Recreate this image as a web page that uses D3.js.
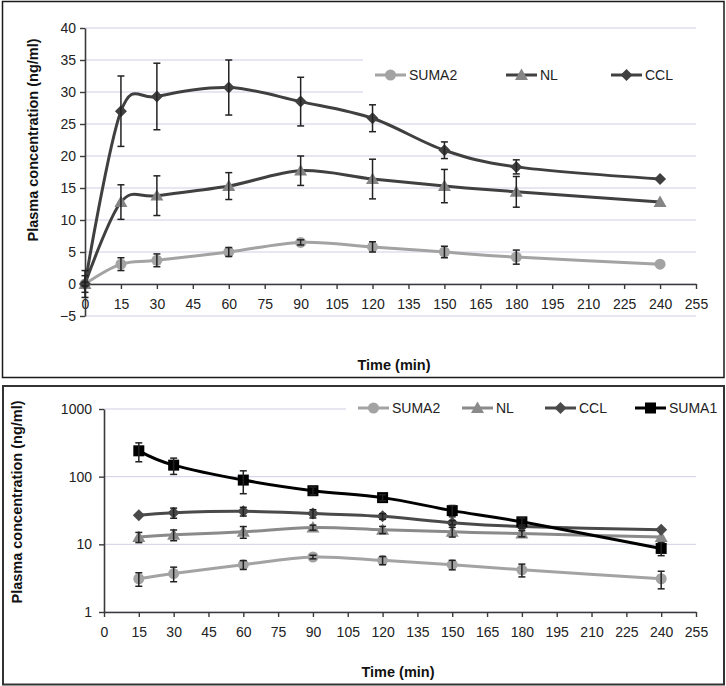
<!DOCTYPE html>
<html>
<head>
<meta charset="utf-8">
<script src="https://cdn.jsdelivr.net/npm/d3@7"></script>
<style>
  html, body { margin: 0; padding: 0; background: #fff; }
  svg { display: block; font-family: "Liberation Sans", Arial, sans-serif; }
</style>
</head>
<body>
<svg id="chart" width="726" height="686"></svg>
<script>
// ---------- data ----------
const times = [0, 15, 30, 60, 90, 120, 150, 180, 240];
const suma2 = [0, 3.1, 3.7, 5.0, 6.5, 5.8, 5.0, 4.2, 3.1];
const nl    = [0, 12.8, 13.8, 15.3, 17.7, 16.4, 15.3, 14.4, 12.8];
const ccl   = [0, 27.0, 29.3, 30.7, 28.5, 25.9, 20.9, 18.3, 16.4];
const suma2Sd = [0.3, 1.0, 1.0, 0.7, 0.4, 0.8, 0.9, 1.1, 0];
const nlSd    = [1.3, 2.7, 3.1, 2.1, 2.3, 3.1, 2.6, 2.4, 0];
const cclSd   = [2.1, 5.5, 5.2, 4.3, 3.8, 2.1, 1.3, 1.1, 0];

const timesLog = [15, 30, 60, 90, 120, 150, 180, 240];
const suma1    = [241, 148, 89, 62, 49, 31.5, 21.5, 8.7];
const suma1Sd  = [75, 40, 33, 8, 5, 6, 3, 1.9];
const suma2SdLog = [0.7, 0.9, 0.75, 0.4, 0.8, 0.8, 0.9, 0.9];
const nlSdLog    = [2.2, 2.5, 3.0, 1.5, 2.0, 2.5, 1.5, 0];
const cclSdLog   = [0, 5, 4.5, 4, 2.5, 1.5, 1, 0];

const xTicks = d3.range(0, 256, 15);
const yTicksLin = d3.range(-5, 41, 5);
const yTicksLog = [1, 10, 100, 1000];
const namesTop = ["SUMA2", "NL", "CCL"];
const namesBottom = ["SUMA2", "NL", "CCL", "SUMA1"];
const yTitle = "Plasma concentration (ng/ml)";
const xTitle = "Time (min)";

// ---------- helpers ----------
const svg = d3.select("#chart");
const gridColor = "#cfcfe6";
const axisColor = "#3a3a3a";

function marker(g, shape, x, y, fill) {
  if (shape === "circle") {
    g.append("circle").attr("cx", x).attr("cy", y).attr("r", 5.5).attr("fill", fill);
  } else if (shape === "triangle") {
    const s = 6.5;
    g.append("path").attr("d", `M${x},${y - s}L${x + s},${y + s * 0.75}L${x - s},${y + s * 0.75}Z`).attr("fill", fill);
  } else if (shape === "diamond") {
    const s = 6;
    g.append("path").attr("d", `M${x},${y - s}L${x + s},${y}L${x},${y + s}L${x - s},${y}Z`).attr("fill", fill);
  } else if (shape === "square") {
    const s = 5.5;
    g.append("rect").attr("x", x - s).attr("y", y - s).attr("width", 2 * s).attr("height", 2 * s).attr("fill", fill);
  }
}

function drawSeries(g, xs, ys, x, y, lineColor, markColor, shape, lw) {
  const pts = xs.map((t, i) => [x(t), y(ys[i])]);
  g.append("path")
    .attr("d", d3.line().curve(d3.curveCardinal.tension(0))(pts))
    .attr("fill", "none").attr("stroke", lineColor).attr("stroke-width", lw)
    .attr("stroke-linejoin", "round").attr("stroke-linecap", "round");
  const m = g.append("g");
  pts.forEach(p => marker(m, shape, p[0], p[1], markColor));
}

function drawErr(g, xs, ys, sds, x, y) {
  const e = g.append("g").attr("stroke", "#222").attr("stroke-width", 1.5);
  xs.forEach((t, i) => {
    if (!sds[i]) return;
    const cx = x(t);
    const y1 = y(ys[i] + sds[i]);
    const y2 = y(Math.max(ys[i] - sds[i], y.domain()[0]));
    e.append("line").attr("x1", cx).attr("x2", cx).attr("y1", y1).attr("y2", y2);
    e.append("line").attr("x1", cx - 3.5).attr("x2", cx + 3.5).attr("y1", y1).attr("y2", y1);
    e.append("line").attr("x1", cx - 3.5).attr("x2", cx + 3.5).attr("y1", y2).attr("y2", y2);
  });
}

function styleAxis(a) {
  a.select(".domain").attr("stroke", axisColor).attr("stroke-width", 1.6);
  a.selectAll(".tick line").attr("stroke", axisColor).attr("stroke-width", 1.4);
  a.selectAll(".tick text").attr("fill", "#222").style("font-size", "14px")
    .style("font-family", "'Liberation Sans', Arial, sans-serif");
}

function legend(g, items, y, fill) {
  g.append("rect").attr("x", items[0].x0 - 12).attr("y", y - 18).attr("width", 700 - items[0].x0 + 12).attr("height", 36).attr("fill", fill);
  items.forEach(it => {
    g.append("line").attr("x1", it.x0).attr("x2", it.x0 + 31).attr("y1", y).attr("y2", y)
      .attr("stroke", it.line).attr("stroke-width", 3);
    marker(g, it.shape, it.x0 + 15.5, y, it.mark);
    g.append("text").attr("x", it.x0 + 34).attr("y", y + 5).text(it.name)
      .attr("fill", "#222").style("font-size", "14px");
  });
}

// ---------- frames ----------
svg.append("rect").attr("x", 2.5).attr("y", 1.5).attr("width", 721.5).attr("height", 376)
  .attr("fill", "#fff").attr("stroke", "#1a1a1a").attr("stroke-width", 1.5);
svg.append("rect").attr("x", 3).attr("y", 386).attr("width", 721).attr("height", 298.5)
  .attr("fill", "#fff").attr("stroke", "#333").attr("stroke-width", 2);

// ---------- top chart ----------
{
  const x = d3.scaleLinear().domain([0, 255]).range([85, 696]);
  const y = d3.scaleLinear().domain([-5, 40]).range([316, 28]);
  const g = svg.append("g");

  g.append("g").selectAll("line").data(yTicksLin).join("line")
    .attr("x1", x(0)).attr("x2", x(255)).attr("y1", d => y(d)).attr("y2", d => y(d))
    .attr("stroke", gridColor).attr("stroke-width", 1);

  legend(g, [
    { name: namesTop[0], x0: 375, line: "#a3a3a3", mark: "#a3a3a3", shape: "circle" },
    { name: namesTop[1], x0: 506, line: "#404040", mark: "#858585", shape: "triangle" },
    { name: namesTop[2], x0: 611, line: "#404040", mark: "#404040", shape: "diamond" }
  ], 75, "#fff");

  const ax = g.append("g").attr("transform", `translate(0,${y(0)})`)
    .call(d3.axisBottom(x).tickValues(xTicks).tickSize(5).tickSizeOuter(0).tickPadding(10));
  styleAxis(ax);
  const ay = g.append("g").attr("transform", `translate(${x(0)},0)`)
    .call(d3.axisLeft(y).tickValues(yTicksLin).tickSize(5).tickSizeOuter(0).tickPadding(4));
  styleAxis(ay);

  drawSeries(g, times, suma2, x, y, "#a3a3a3", "#a3a3a3", "circle", 3);
  drawSeries(g, times, nl, x, y, "#404040", "#858585", "triangle", 3);
  drawSeries(g, times, ccl, x, y, "#404040", "#404040", "diamond", 3);
  drawErr(g, times, suma2, suma2Sd, x, y);
  drawErr(g, times, nl, nlSd, x, y);
  drawErr(g, times, ccl, cclSd, x, y);

  g.append("text").attr("transform", "translate(38,140) rotate(-90)").attr("text-anchor", "middle")
    .style("font-size", "14.5px").style("font-weight", "bold").attr("fill", "#111").text(yTitle);
  g.append("text").attr("x", 394).attr("y", 370).attr("text-anchor", "middle")
    .style("font-size", "14.5px").style("font-weight", "bold").attr("fill", "#111").text(xTitle);
}

// ---------- bottom chart ----------
{
  const x = d3.scaleLinear().domain([0, 255]).range([104, 696]);
  const y = d3.scaleLog().domain([1, 1000]).range([612, 409]);
  const g = svg.append("g");

  g.append("g").selectAll("line").data(yTicksLog).join("line")
    .attr("x1", x(0)).attr("x2", x(255)).attr("y1", d => y(d)).attr("y2", d => y(d))
    .attr("stroke", gridColor).attr("stroke-width", 1);

  legend(g, [
    { name: namesBottom[0], x0: 358, line: "#a3a3a3", mark: "#a3a3a3", shape: "circle" },
    { name: namesBottom[1], x0: 462, line: "#8a8a8a", mark: "#8a8a8a", shape: "triangle" },
    { name: namesBottom[2], x0: 545, line: "#4a4a4a", mark: "#4a4a4a", shape: "diamond" },
    { name: namesBottom[3], x0: 635, line: "#000", mark: "#000", shape: "square" }
  ], 408, "#fff");

  const ax = g.append("g").attr("transform", `translate(0,${y(1)})`)
    .call(d3.axisBottom(x).tickValues(xTicks).tickSize(5).tickSizeOuter(0).tickPadding(10));
  styleAxis(ax);
  const ay = g.append("g").attr("transform", `translate(${x(0)},0)`)
    .call(d3.axisLeft(y).tickValues(yTicksLog).tickFormat(d3.format("d")).tickSize(5).tickSizeOuter(0).tickPadding(7));
  styleAxis(ay);

  const s2 = suma2.slice(1), n2 = nl.slice(1), c2 = ccl.slice(1);
  drawSeries(g, timesLog, s2, x, y, "#a3a3a3", "#a3a3a3", "circle", 3);
  drawSeries(g, timesLog, n2, x, y, "#8a8a8a", "#8a8a8a", "triangle", 3);
  drawSeries(g, timesLog, c2, x, y, "#4a4a4a", "#4a4a4a", "diamond", 3);
  drawSeries(g, timesLog, suma1, x, y, "#000", "#000", "square", 3);
  drawErr(g, timesLog, s2, suma2SdLog, x, y);
  drawErr(g, timesLog, n2, nlSdLog, x, y);
  drawErr(g, timesLog, c2, cclSdLog, x, y);
  drawErr(g, timesLog, suma1, suma1Sd, x, y);

  g.append("text").attr("transform", "translate(22,502) rotate(-90)").attr("text-anchor", "middle")
    .style("font-size", "14.5px").style("font-weight", "bold").attr("fill", "#111").text(yTitle);
  g.append("text").attr("x", 398).attr("y", 677).attr("text-anchor", "middle")
    .style("font-size", "14.5px").style("font-weight", "bold").attr("fill", "#111").text(xTitle);
}
</script>
</body>
</html>
